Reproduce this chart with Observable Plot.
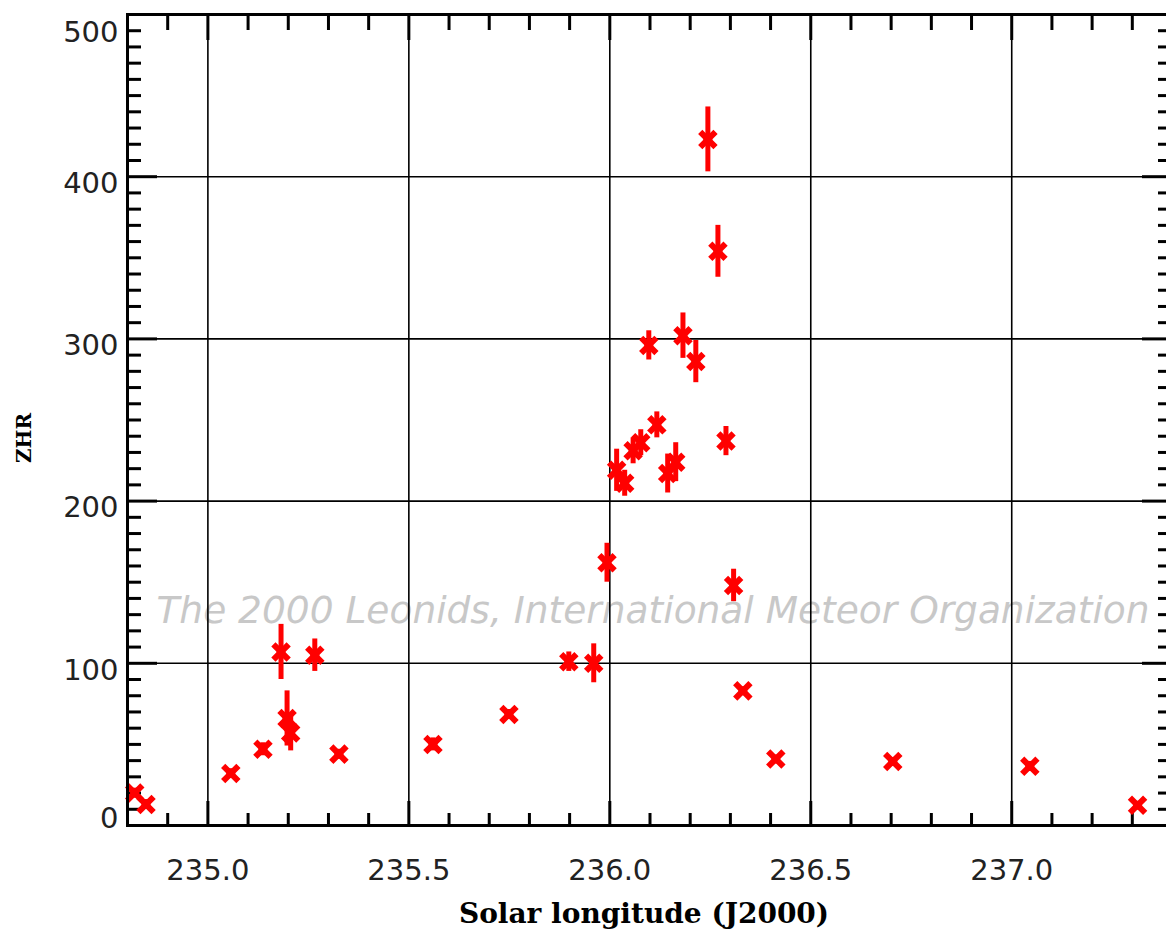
<!DOCTYPE html>
<html><head><meta charset="utf-8">
<script src="https://cdn.jsdelivr.net/npm/d3@7"></script>
<script src="https://cdn.jsdelivr.net/npm/@observablehq/plot@0.6"></script>
<style>body{margin:0;background:#fff;overflow:hidden} svg{display:block}</style>
</head><body><div id="chart"></div>
<script>
// Solar longitude (J2000) of each ZHR estimate
const solarLongitude = [234.818, 234.846, 235.057, 235.137, 235.182, 235.197, 235.206, 235.266, 235.326,
  235.560, 235.749, 235.898, 235.960, 235.993, 236.017, 236.037, 236.058, 236.077, 236.097, 236.117,
  236.144, 236.164, 236.182, 236.214, 236.244, 236.269, 236.289, 236.308, 236.331, 236.413, 236.704,
  237.045, 237.313];
// ZHR values
const zhr = [20, 13, 32, 47, 107, 66, 57, 105, 44,
  50, 68.5, 101, 100, 162, 219, 211, 231, 236, 296, 247,
  217, 224, 302, 286, 423, 354, 237, 148, 83, 41, 39.5,
  36.5, 12.5];
// ZHR error bars (+/-)
const zhrError = [3, 3, 3, 4, 17, 17, 11, 10, 3,
  4, 3, 6, 12, 12, 13, 8, 8, 8, 9, 8,
  12, 12, 14, 13, 20, 16, 9, 10, 2, 2, 2,
  3, 2];
const xTickValues = [235.0, 235.5, 236.0, 236.5, 237.0];
const yTickValues = [0, 100, 200, 300, 400, 500];
const watermark = "The 2000 Leonids, International Meteor Organization";
const xTitle = "Solar longitude (J2000)";
const yTitle = "ZHR";

const data = solarLongitude.map((x, i) => ({x, y: zhr[i], lo: zhr[i] - zhrError[i], hi: zhr[i] + zhrError[i]}));

const W = 1166, H = 930, mL = 127, mR = -6, mT = 14, mB = 105;
const fw = W - mL - mR, fh = H - mT - mB;
const xMinor = d3.range(2349, 2374).map(d => d / 10).filter(d => !xTickValues.some(t => Math.abs(t - d) < 1e-6));
const yMinor = d3.range(0, 501, 10).filter(d => d % 100 !== 0);
const yGrid = yTickValues.filter(d => d > 0 && d < 500);
const tickFont = "'DejaVu Sans', sans-serif";
const titleFont = "'DejaVu Serif', serif";
const tickColor = "#222";

const chart = Plot.plot({
  width: W, height: H,
  marginLeft: mL, marginRight: mR, marginTop: mT, marginBottom: mB,
  style: {background: "#fff"},
  x: {domain: [234.8, 237.4], label: null},
  y: {domain: [0, 500], label: null},
  marks: [
    Plot.text([watermark], {frameAnchor: "middle", dx: 3, dy: 191, fontFamily: tickFont, fontStyle: "italic", fontSize: 37.5, fill: "#c8c8c8"}),
    Plot.ruleX(xTickValues, {stroke: "#000", strokeWidth: 1.6}),
    Plot.ruleY(yGrid, {stroke: "#000", strokeWidth: 1.6}),
    // x minor ticks bottom/top
    Plot.tickX(xMinor, {insetTop: fh - 12, stroke: "#000", strokeWidth: 3}),
    Plot.tickX(xMinor, {insetBottom: fh - 16, stroke: "#000", strokeWidth: 3}),
    Plot.tickX(xTickValues, {insetTop: fh - 24, stroke: "#000", strokeWidth: 3}),
    Plot.tickX(xTickValues, {insetBottom: fh - 26, stroke: "#000", strokeWidth: 3}),
    // y minor ticks left/right
    Plot.tickY(yMinor, {insetRight: fw - 14, stroke: "#000", strokeWidth: 3}),
    Plot.tickY(yMinor, {insetLeft: fw - 14, stroke: "#000", strokeWidth: 3}),
    Plot.tickY(yGrid, {insetRight: fw - 30, stroke: "#000", strokeWidth: 3}),
    Plot.tickY(yGrid, {insetLeft: fw - 30, stroke: "#000", strokeWidth: 3}),
    // data
    Plot.ruleX(data, {x: "x", y1: "lo", y2: "hi", stroke: "red", strokeWidth: 5}),
    Plot.dot(data, {x: "x", y: "y", symbol: "times", r: 7, stroke: "red", strokeWidth: 6}),
    Plot.dot(data, {x: "x", y: "y", symbol: "circle", r: 4.5, fill: "red", stroke: "none"}),
    Plot.frame({stroke: "#000", strokeWidth: 3}),
    // axes labels
    Plot.axisY(yGrid, {anchor: "left", tickSize: 0, tickPadding: 9, fontSize: 29, fontFamily: tickFont, fill: tickColor, dy: 7, label: null}),
    Plot.axisY([500], {anchor: "left", tickSize: 0, tickPadding: 9, fontSize: 29, fontFamily: tickFont, fill: tickColor, dy: 18, label: null}),
    Plot.axisY([0], {anchor: "left", tickSize: 0, tickPadding: 9, fontSize: 29, fontFamily: tickFont, fill: tickColor, dy: -7, label: null}),
    Plot.axisX(xTickValues, {anchor: "bottom", tickSize: 0, tickPadding: 0, fontSize: 29, fontFamily: tickFont, fill: tickColor, tickFormat: d3.format(".1f"), dy: 34, label: null}),
    Plot.text([xTitle], {frameAnchor: "bottom", dx: -6, dy: 89, lineAnchor: "middle", fontFamily: titleFont, fontWeight: "bold", fontSize: 28, fill: "#000"}),
    Plot.text([yTitle], {frameAnchor: "left", dx: -103, dy: 18, rotate: -90, textAnchor: "middle", lineAnchor: "middle", fontFamily: titleFont, fontWeight: "bold", fontSize: 20, fill: "#000"})
  ]
});
document.getElementById("chart").appendChild(chart);
</script>
</body></html>
